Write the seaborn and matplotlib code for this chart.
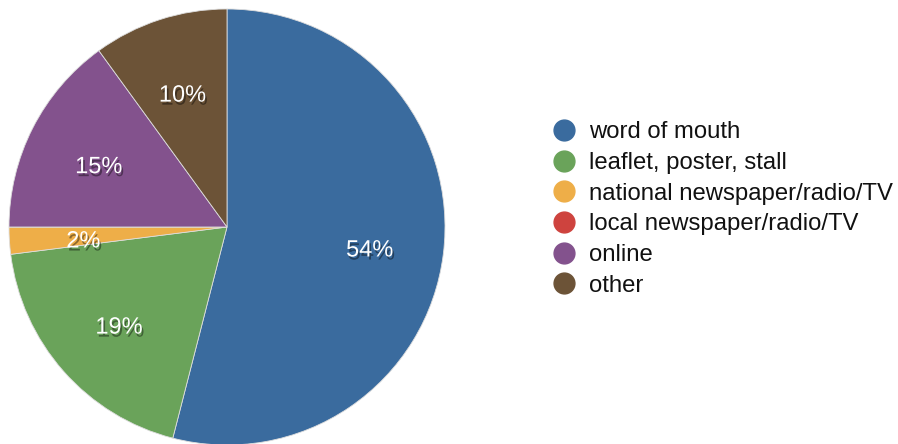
import matplotlib
matplotlib.use("Agg")
import matplotlib.pyplot as plt
import matplotlib.patheffects as pe
from matplotlib.lines import Line2D
import seaborn as sns

categories = ["word of mouth", "leaflet, poster, stall", "national newspaper/radio/TV",
              "local newspaper/radio/TV", "online", "other"]
shares = [54, 19, 2, 0, 15, 10]
colors = ["#3A6B9E", "#6AA35A", "#EEAE48", "#CE433E", "#83528D", "#6C5337"]

sns.set_theme(style="white")
plt.rcParams["font.family"] = ["Liberation Sans", "DejaVu Sans"]

fig = plt.figure(figsize=(8.98, 4.44), dpi=100)
ax = fig.add_axes([9 / 898, -1 / 444, 436 / 898, 436 / 444])

def fmt(p):
    return f"{p:.0f}%" if p >= 0.5 else ""

wedges, texts, autotexts = ax.pie(
    shares, colors=colors, startangle=90, counterclock=False,
    autopct=fmt, pctdistance=0.66, radius=1.0,
    wedgeprops=dict(linewidth=0.6, edgecolor="#dddddd"),
)
shadow = [pe.withSimplePatchShadow(offset=(1.2, -2.2), shadow_rgbFace="black", alpha=0.4)]
for t in autotexts:
    x, y = t.get_position()
    t.set_position((x, y - 0.025))
    t.set_color("white")
    t.set_fontsize(17)
    t.set_path_effects(shadow)
ax.set_xlim(-1, 1)
ax.set_ylim(-1, 1)
ax.set_aspect("equal")
ax.axis("off")

handles = [Line2D([], [], linestyle="none", marker="o", markersize=15,
                  markerfacecolor=c, markeredgecolor=c) for c in colors]
leg = fig.legend(handles, categories, loc="center left",
                 bbox_to_anchor=(550 / 898, 1 - 209 / 444), frameon=False,
                 fontsize=17.2, handletextpad=0.45, labelspacing=0.36,
                 handlelength=1.2, borderaxespad=0, borderpad=0)
for t in leg.get_texts():
    t.set_color("#111111")

fig.savefig("out.png", dpi=100)
